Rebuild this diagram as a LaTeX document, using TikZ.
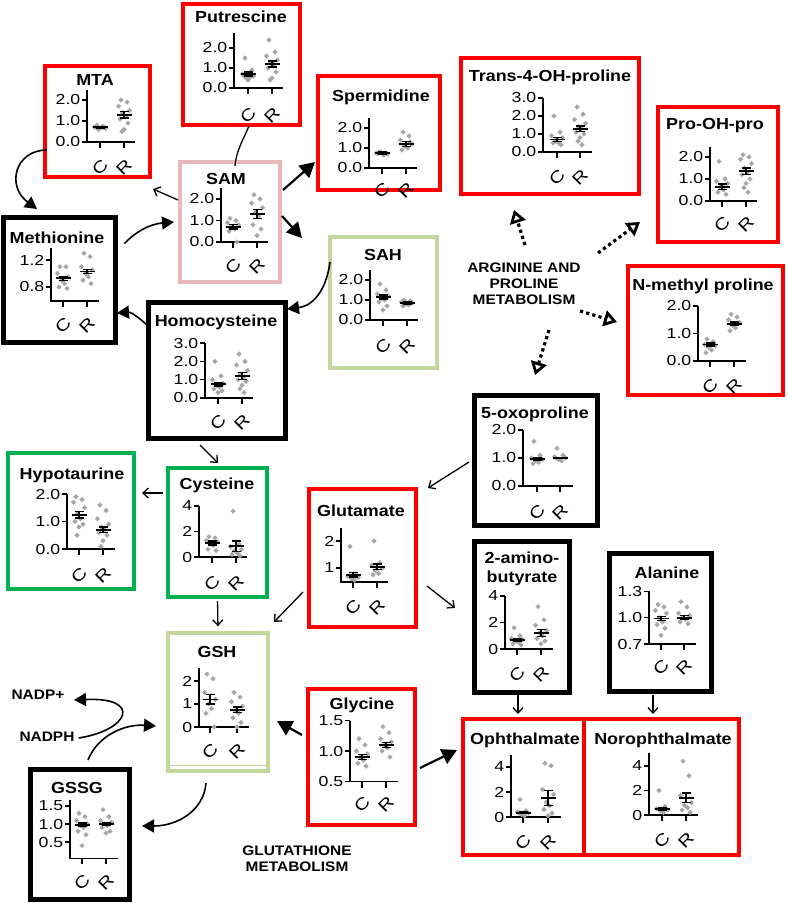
\documentclass[tikz,border=0pt]{standalone}
\usepackage{fontspec}
\setmainfont{Liberation Sans}
\newfontfamily\tfont{Liberation Sans}[FakeStretch=1.12]
\newfontfamily\kfont{Liberation Sans}[FakeStretch=1.22]
\usetikzlibrary{arrows.meta,fit,calc}
\definecolor{boxred}{HTML}{FF0000}
\definecolor{boxgreen}{HTML}{00B050}
\definecolor{lgreen}{HTML}{C3D69B}
\definecolor{pinkb}{HTML}{E6B9B8}
\definecolor{ptgrey}{HTML}{A6A6A6}
\tikzset{
  axisl/.style={line width=1.4pt, black},
  ticklab/.style={font=\kfont\fontsize{14.5}{15}\selectfont, inner sep=1pt},
  crlab/.style={font=\kfont\fontsize{16.5}{16.5}\selectfont, rotate=45, inner sep=0pt},
  meanl/.style={line width=1.8pt},
  errl/.style={line width=1.3pt},
  ttl/.style={font=\tfont\bfseries\fontsize{16}{19}\selectfont, inner sep=0pt, align=center},
  lbl/.style={font=\tfont\bfseries\fontsize{13.8}{16}\selectfont, align=center, inner sep=0pt},
  redbox/.style={draw=boxred, line width=4pt, inner sep=0pt},
  blackbox/.style={draw=black, line width=5pt, inner sep=0pt},
  greenbox/.style={draw=boxgreen, line width=4pt, inner sep=0pt},
  lgreenbox/.style={draw=lgreen, line width=3.5pt, inner sep=0pt},
  pinkbox/.style={draw=pinkb, line width=3.5pt, inner sep=0pt},
  thinarr/.style={line width=1.3pt, -{Straight Barb[length=5.5pt,width=10pt]}},
  bigarr/.style={line width=2.2pt, -{Triangle[length=15pt,width=16pt]}},
  medarr/.style={line width=1.6pt, -{Triangle[length=12pt,width=13pt]}},
  dotarr/.style={line width=3.2pt, dash pattern=on 3.2pt off 3.2pt, -{Triangle[open,length=13pt,width=16pt,line width=2.8pt]}},
  pl/.style n args={3}{shift={(#1,#2)}, y={(0pt,#3pt)}},
}
% axes: #1 ybot, #2 ytop, #3 xlen, #4 g1, #5 g2, #6 label drop (pt)
\newcommand\ax[6]{%
  \draw[axisl] (0,#2) -- (0,#1) -- (#3,#1);
  \draw[axisl] (#4,#1) -- ++(0pt,-6pt) (#5,#1) -- ++(0pt,-6pt);
  \path (#4,#1) ++(0pt,-#6pt) node[crlab] {C};
  \path (#5,#1) ++(0pt,-#6pt) node[crlab] {R};
}
\newcommand\ytk[2]{\draw[axisl] (0,#1) -- ++(-5pt,0pt) node[left, ticklab] {#2};}
% group: #1 x, #2 mean, #3 se, #4 values
\newcommand\grp[4]{%
  \foreach \v [count=\i] in {#4} {
    \pgfmathsetmacro\jx{{0,-3,3,-5.5,5.5,-1.5,1.5,-4,4,0,-2,2}[mod(\i,12)]}
    \fill[ptgrey] (#1+\jx,\v) +(0pt,2.6pt) -- +(2.6pt,0pt) -- +(0pt,-2.6pt) -- +(-2.6pt,0pt) -- cycle;
  }
  \draw[meanl] (#1-7.5,#2) -- (#1+7.5,#2);
  \draw[errl] (#1-4.5,#2+#3) -- (#1+4.5,#2+#3) (#1,#2+#3) -- (#1,#2-#3) (#1-4.5,#2-#3) -- (#1+4.5,#2-#3);
}
\begin{document}
\begin{tikzpicture}[x=1pt,y=-1pt]
\useasboundingbox[fill=white] (0,0) rectangle (787,903);

% ---------- Putrescine
\node[redbox, fit={(183,4) (300,125)}] (put) {};
\node[ttl] (put-t) at (241,17) {Putrescine};
\begin{scope}[pl={234}{88}{20}]
\ax{0}{2.75}{49}{14}{38}{27}
\ytk{2}{2.0}\ytk{1}{1.0}\ytk{0}{0.0}
\grp{14}{0.7}{0.1}{1.5,0.8,0.7,0.6,0.5,0.5,0.6,0.9,0.4}
\grp{38}{1.2}{0.15}{2.4,1.8,1.6,1.4,1.3,1.1,1.0,0.8,0.5,0.4,1.2}
\end{scope}

% ---------- MTA
\node[redbox, fit={(45,66) (150,177)}] (mta) {};
\node[ttl] (mta-t) at (95,80) {MTA};
\begin{scope}[pl={87}{142}{21}]
\ax{0}{2.5}{48}{13}{37}{25}
\ytk{2}{2.0}\ytk{1}{1.0}\ytk{0}{0.0}
\grp{13}{0.7}{0.05}{0.8,0.75,0.7,0.65,0.6,0.7,0.72,0.68}
\grp{37}{1.3}{0.15}{2.0,1.9,1.7,1.5,1.4,1.2,1.1,0.9,0.6,0.5}
\end{scope}

% ---------- Spermidine
\node[redbox, fit={(318,76) (440,190)}] (spd) {};
\node[ttl] (spd-t) at (381,97) {Spermidine};
\begin{scope}[pl={369}{168}{20}]
\ax{0}{2.5}{48}{13}{37}{22}
\ytk{2}{2.0}\ytk{1}{1.0}\ytk{0}{0.0}
\grp{13}{0.75}{0.05}{0.8,0.7,0.75,0.7,0.8,0.65,0.72}
\grp{37}{1.2}{0.12}{1.8,1.6,1.4,1.2,1.1,1.0,0.9,1.3}
\end{scope}

% ---------- Trans-4-OH-proline
\node[redbox, fit={(461,58) (639,194)}] (toh) {};
\node[ttl] (toh-t) at (550,77) {Trans-4-OH-proline};
\begin{scope}[pl={543}{152}{18}]
\ax{0}{3.0}{49}{14}{37}{25}
\ytk{3}{3.0}\ytk{2}{2.0}\ytk{1}{1.0}\ytk{0}{0.0}
\grp{14}{0.7}{0.1}{2.0,1.1,0.9,0.8,0.6,0.5,0.5,0.4,0.7}
\grp{37}{1.3}{0.15}{2.5,2.1,1.8,1.6,1.4,1.3,1.1,1.0,0.8,0.6,0.4}
\end{scope}

% ---------- Pro-OH-pro
\node[redbox, fit={(658,107) (778,242)}] (pop) {};
\node[ttl] (pop-t) at (715,126) {Pro-OH-pro};
\begin{scope}[pl={710}{201}{22}]
\ax{0}{2.45}{47}{12}{36}{23}
\ytk{2}{2.0}\ytk{1}{1.0}\ytk{0}{0.0}
\grp{12}{0.65}{0.12}{1.8,1.0,0.9,0.8,0.6,0.5,0.4,0.3,0.7}
\grp{36}{1.35}{0.15}{2.1,2.0,1.9,1.7,1.5,1.3,1.2,1.0,0.8,0.6,0.4}
\end{scope}

% ---------- N-methyl proline
\node[redbox, fit={(628,266) (783,395)}] (nmp) {};
\node[ttl] (nmp-t) at (703,286) {N-methyl proline};
\begin{scope}[pl={698}{361}{27.5}]
\ax{0}{2.0}{48}{12}{36}{25}
\ytk{2}{2.0}\ytk{1}{1.0}\ytk{0}{0.0}
\grp{12}{0.6}{0.05}{0.8,0.7,0.6,0.55,0.5,0.4,0.3,0.65}
\grp{36}{1.35}{0.07}{1.7,1.6,1.5,1.4,1.3,1.2,1.1,1.35}
\end{scope}

% ---------- SAM
\node[pinkbox, fit={(180,162) (280,282)}] (sam) {};
\node[ttl] (sam-t) at (226,179) {SAM};
\begin{scope}[pl={221}{242}{21.5}]
\ax{0}{2.5}{47}{12}{36}{24}
\ytk{2}{2.0}\ytk{1}{1.0}\ytk{0}{0.0}
\grp{12}{0.7}{0.1}{1.1,1.0,0.9,0.8,0.7,0.6,0.5,0.0}
\grp{36}{1.3}{0.2}{2.2,2.0,1.8,1.6,1.4,1.2,0.8,0.6,0.3}
\end{scope}

% ---------- Methionine
\node[blackbox, fit={(3,217) (115,342)}] (met) {};
\node[ttl] (met-t) at (57,238) {Methionine};
\begin{scope}[pl={51}{341}{67.5}]
\ax{0.593}{1.378}{48}{12}{36}{24}
\ytk{1.2}{1.2}\ytk{0.8}{0.8}
\grp{12}{0.93}{0.03}{1.1,1.1,1.0,0.95,0.9,0.85,0.8,0.78,0.9}
\grp{36}{1.03}{0.03}{1.3,1.25,1.1,1.05,1.0,0.95,0.9,0.85,1.0}
\end{scope}

% ---------- SAH
\node[lgreenbox, fit={(330,237) (437,368)}] (sah) {};
\node[ttl] (sah-t) at (383,255) {SAH};
\begin{scope}[pl={370}{320}{20}]
\ax{0}{2.5}{48}{13}{37}{26}
\ytk{2}{2.0}\ytk{1}{1.0}\ytk{0}{0.0}
\grp{13}{1.15}{0.1}{1.8,1.5,1.3,1.2,1.1,1.0,0.9,0.7,0.5}
\grp{37}{0.85}{0.05}{1.0,0.95,0.9,0.85,0.8,0.75,0.7,0.9}
\end{scope}

% ---------- Homocysteine
\node[blackbox, fit={(148,302) (285,438)}] (hcy) {};
\node[ttl] (hcy-t) at (216,322) {Homocysteine};
\begin{scope}[pl={205}{398}{18.3}]
\ax{0}{3.0}{48}{13}{37}{24}
\ytk{3}{3.0}\ytk{2}{2.0}\ytk{1}{1.0}\ytk{0}{0.0}
\grp{13}{0.75}{0.1}{2.0,1.2,1.0,0.8,0.7,0.6,0.5,0.4,0.3}
\grp{37}{1.2}{0.2}{2.4,2.0,1.8,1.5,1.3,1.1,1.0,0.9,0.7,0.5,0.3}
\end{scope}

% ---------- Hypotaurine
\node[greenbox, fit={(8,453) (134,589)}] (hyp) {};
\node[ttl] (hyp-t) at (72,475) {Hypotaurine};
\begin{scope}[pl={67}{549}{27.5}]
\ax{0}{2.0}{48}{12}{36}{26}
\ytk{2}{2.0}\ytk{1}{1.0}\ytk{0}{0.0}
\grp{12}{1.25}{0.12}{1.9,1.8,1.7,1.5,1.3,1.1,1.0,0.9,0.8,0.5}
\grp{36}{0.7}{0.1}{1.6,1.4,1.1,0.9,0.8,0.7,0.6,0.5,0.3,0.1}
\end{scope}

% ---------- Cysteine
\node[greenbox, fit={(168,468) (267,597)}] (cys) {};
\node[ttl] (cys-t) at (217,485) {Cysteine};
\begin{scope}[pl={199}{557}{12.75}]
\ax{0}{4}{48}{13}{37}{26}
\ytk{4}{4}\ytk{2}{2}\ytk{0}{0}
\grp{13}{1.1}{0.15}{1.6,1.5,1.3,1.2,1.0,0.9,0.6,0.5}
\grp{37}{0.85}{0.4}{3.6,1.0,0.8,0.6,0.5,0.3,0.2,0.1}
\end{scope}

% ---------- 5-oxoproline
\node[blackbox, fit={(474,395) (597,525)}] (oxo) {};
\node[ttl] (oxo-t) at (535,414) {5-oxoproline};
\begin{scope}[pl={523}{486}{28}]
\ax{0}{2.0}{50}{14}{37}{26}
\ytk{2}{2.0}\ytk{1}{1.0}\ytk{0}{0.0}
\grp{14}{0.97}{0.06}{1.6,1.1,1.0,0.95,0.9,0.85,0.8,1.0}
\grp{37}{1.0}{0.03}{1.35,1.1,1.05,1.0,0.95,0.9,1.0}
\end{scope}

% ---------- Glutamate
\node[redbox, fit={(309,489) (416,627)}] (glu) {};
\node[ttl] (glu-t) at (361,511) {Glutamate};
\begin{scope}[pl={341}{595}{27}]
\ax{0.48}{2.48}{47}{12}{36}{25}
\ytk{2}{2}\ytk{1}{1}
\grp{12}{0.75}{0.08}{1.8,0.8,0.7,0.65,0.6,0.55,0.7}
\grp{36}{1.05}{0.1}{2.0,1.2,1.1,1.0,0.9,0.8,0.75}
\end{scope}

% ---------- 2-amino-butyrate
\node[blackbox, fit={(474,541) (569,692)}] (aba) {};
\node[ttl] (aba-t) at (522,569) {2-amino-\\butyrate};
\begin{scope}[pl={505}{649}{13.25}]
\ax{0}{4}{48}{12}{36}{25}
\ytk{4}{4}\ytk{2}{2}\ytk{0}{0}
\grp{12}{0.65}{0.1}{1.6,1.0,0.8,0.7,0.6,0.5,0.4,0.3}
\grp{36}{1.2}{0.25}{3.2,2.2,1.8,1.4,1.2,1.0,0.8,0.6,0.4}
\end{scope}

% ---------- Alanine
\node[blackbox, fit={(609,553) (711,691)}] (ala) {};
\node[ttl] (ala-t) at (667,573) {Alanine};
\begin{scope}[pl={649}{705.6}{88}]
\ax{0.7}{1.3}{47}{12}{35}{23}
\ytk{1.3}{1.3}\ytk{1.0}{1.0}\ytk{0.7}{0.7}
\grp{12}{0.99}{0.025}{1.15,1.12,1.08,1.05,1.0,0.95,0.92,0.88,0.8}
\grp{35}{1.0}{0.02}{1.18,1.12,1.05,1.02,1.0,0.98,0.95,0.93}
\end{scope}

% ---------- Ophthalmate / Norophthalmate
\node[redbox, fit={(463,719) (739,855)}] (oph) {};
\draw[boxred, line width=4pt] (584,719) -- (584,855);
\node[ttl] (oph-t) at (525,740) {Ophthalmate};
\node[ttl] (nor-t) at (663,740) {Norophthalmate};
\begin{scope}[pl={511}{817}{12.5}]
\ax{0}{5}{50}{12}{37}{25}
\ytk{4}{4}\ytk{2}{2}\ytk{0}{0}
\grp{12}{0.35}{0.07}{1.4,0.5,0.4,0.3,0.2,0.1,0.3}
\grp{37}{1.5}{0.6}{4.3,4.1,2.2,1.8,1.2,0.9,0.6,0.3,0.1}
\end{scope}
\begin{scope}[pl={649}{815}{12.25}]
\ax{0}{5.1}{49}{13}{37}{25}
\ytk{4}{4}\ytk{2}{2}\ytk{0}{0}
\grp{13}{0.5}{0.1}{2.0,0.7,0.5,0.4,0.3,0.2}
\grp{37}{1.4}{0.4}{4.4,3.2,1.6,1.0,0.8,0.6,0.4,0.2}
\end{scope}

% ---------- GSH
\node[lgreenbox, fit={(168,633) (268,771)}] (gsh) {};
\draw[lgreen, line width=1pt] (170,765) -- (266,765);
\node[ttl] (gsh-t) at (217,652) {GSH};
\begin{scope}[pl={199}{727}{23}]
\ax{0}{2.56}{50}{11}{38}{24}
\ytk{2}{2}\ytk{1}{1}\ytk{0}{0}
\grp{11}{1.2}{0.2}{2.3,2.1,1.5,1.2,1.0,0.8,0.6,0.0}
\grp{38}{0.75}{0.12}{1.5,1.3,1.1,0.9,0.7,0.6,0.4,0.2,0.0}
\end{scope}

% ---------- GSSG
\node[blackbox, fit={(30,769) (129,899)}] (gssg) {};
\node[ttl] (gssg-t) at (77,788) {GSSG};
\begin{scope}[pl={70}{860}{36}]
\ax{0.05}{1.67}{48}{12}{36}{24}
\ytk{1.5}{1.5}\ytk{1.0}{1.0}\ytk{0.5}{0.5}
\grp{12}{0.98}{0.05}{1.3,1.2,1.1,1.0,0.95,0.9,0.8,0.7,0.4}
\grp{36}{1.0}{0.05}{1.4,1.2,1.1,1.05,1.0,0.95,0.9,0.8,0.75}
\end{scope}

% ---------- Glycine
\node[redbox, fit={(308,689) (415,825)}] (gly) {};
\node[ttl] (gly-t) at (362,705) {Glycine};
\begin{scope}[pl={350}{812}{61}]
\ax{0.5}{1.5}{48}{12}{36}{23}
\ytk{1.5}{1.5}\ytk{1.0}{1.0}\ytk{0.5}{0.5}
\grp{12}{0.9}{0.04}{1.2,1.1,1.0,0.95,0.9,0.85,0.8,0.75}
\grp{36}{1.1}{0.04}{1.4,1.3,1.2,1.15,1.1,1.05,1.0,0.9}
\end{scope}

% ---------- labels
\node[lbl] (arg) at (524,284) {ARGININE AND\\PROLINE\\METABOLISM};
\node[lbl] (glut) at (297,859) {GLUTATHIONE\\METABOLISM};
\node[lbl, anchor=center] (nadpp) at (38,695) {NADP+};
\node[lbl, anchor=center] (nadph) at (47,737) {NADPH};

% ---------- connectors
\coordinate (mtaL) at (47,150);
\coordinate (metT) at (37,209);
\draw[medarr] (mtaL) .. controls (15,150) and (6,186) .. (metT);
\draw[medarr] (met.north east) ++(7,29) coordinate (metR) .. controls (135,232) and (150,224) .. (174,222) coordinate (samL);
\draw[thinarr] (178,200) coordinate (samL2) -- (153,189) coordinate (mtaB);
\draw[line width=1.3pt] (249,126) coordinate (putB) .. controls (242,142) and (236,152) .. (235,166) coordinate (samT);
\draw[bigarr] (283,190) coordinate (samR1) -- (315,162) coordinate (spdL);
\draw[bigarr] (282,216) coordinate (samR2) -- (302,238) coordinate (sahT);
\draw[medarr] (330,262) coordinate (sahL) .. controls (326,292) and (312,306) .. (287,309) coordinate (hcyR);
\draw[medarr] (150,328) coordinate (hcyL) .. controls (140,318) and (131,312) .. (117,313) coordinate (metR2);
\draw[thinarr] (200,445) coordinate (hcyB) -- (218,463) coordinate (cysT);
\draw[thinarr] (163,493) coordinate (cysL) -- (142,493) coordinate (hypR);
\draw[thinarr, shorten <=2pt, shorten >=5pt] (cys.south) -- (gsh.north);
\draw[thinarr] (303,592) coordinate (gluL) -- (274,622) coordinate (gshT);
\draw[thinarr] (469,462) coordinate (oxoL) -- (428,488) coordinate (gluT);
\draw[thinarr] (427,586) coordinate (gluR) -- (455,608) coordinate (abaL);
\draw[thinarr] (518,695) coordinate (abaB) -- (518,714) coordinate (ophT);
\draw[thinarr] (653,695) coordinate (alaB) -- (653,714) coordinate (norT);
\draw[bigarr] (302,735) coordinate (glyL) -- (277,721) coordinate (gshR);
\draw[bigarr] (420,768) coordinate (glyR) -- (457,750) coordinate (ophL);
\draw[medarr] (206,783) coordinate (gshB) .. controls (204,810) and (178,826) .. (142,826) coordinate (gssgR);
\draw[medarr] (88,760) coordinate (gssgT) .. controls (98,735) and (125,724) .. (156,726) coordinate (gshL);
\draw[medarr] (nadph.east) ++(4,1) .. controls (130,730) and (142,697) .. (74,700);
\draw[dotarr] (525,245) coordinate (argT) -- (514,210) coordinate (tohB);
\draw[dotarr] (598,253) coordinate (argR) -- (640,222) coordinate (popB);
\draw[dotarr] (580,311) coordinate (argR2) -- (617,322) coordinate (nmpL);
\draw[dotarr] (549,330) coordinate (argB) -- (535,375) coordinate (oxoT);
\end{tikzpicture}
\end{document}
